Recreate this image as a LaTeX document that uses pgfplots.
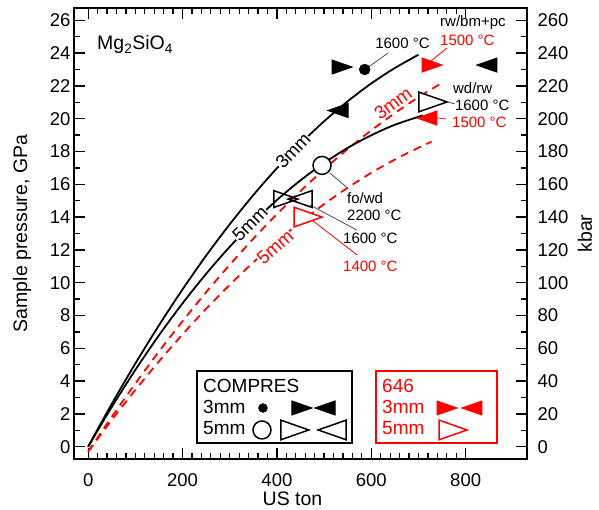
\documentclass[border=0pt]{standalone}
\usepackage{fontspec}
\setmainfont{Liberation Sans}
\usepackage{pgfplots}
\pgfplotsset{compat=1.18}

% triangle marks: bbox centred, pointing right / left
\pgfdeclareplotmark{trf}{%
  \pgfpathmoveto{\pgfpoint{\pgfplotmarksize}{0pt}}%
  \pgfpathlineto{\pgfpoint{-\pgfplotmarksize}{0.7\pgfplotmarksize}}%
  \pgfpathlineto{\pgfpoint{-\pgfplotmarksize}{-0.7\pgfplotmarksize}}%
  \pgfpathclose\pgfusepathqfillstroke}
\pgfdeclareplotmark{tlf}{%
  \pgfpathmoveto{\pgfpoint{-\pgfplotmarksize}{0pt}}%
  \pgfpathlineto{\pgfpoint{\pgfplotmarksize}{0.7\pgfplotmarksize}}%
  \pgfpathlineto{\pgfpoint{\pgfplotmarksize}{-0.7\pgfplotmarksize}}%
  \pgfpathclose\pgfusepathqfillstroke}
\pgfdeclareplotmark{tro}{%
  \pgfpathmoveto{\pgfpoint{\pgfplotmarksize}{0pt}}%
  \pgfpathlineto{\pgfpoint{-\pgfplotmarksize}{0.7\pgfplotmarksize}}%
  \pgfpathlineto{\pgfpoint{-\pgfplotmarksize}{-0.7\pgfplotmarksize}}%
  \pgfpathclose\pgfusepathqstroke}
\pgfdeclareplotmark{tlo}{%
  \pgfpathmoveto{\pgfpoint{-\pgfplotmarksize}{0pt}}%
  \pgfpathlineto{\pgfpoint{\pgfplotmarksize}{0.7\pgfplotmarksize}}%
  \pgfpathlineto{\pgfpoint{\pgfplotmarksize}{-0.7\pgfplotmarksize}}%
  \pgfpathclose\pgfusepathqstroke}

\newcommand{\fmain}{\fontsize{18.5}{21}\selectfont}
\newcommand{\flab}{\fontsize{19.5}{22}\selectfont}
\newcommand{\fann}{\fontsize{15}{17}\selectfont}
\newcommand{\fleg}{\fontsize{19}{21}\selectfont}

\begin{document}
\begin{tikzpicture}
\useasboundingbox (-74pt,-51pt) rectangle (525pt,459pt);
\begin{axis}[
  scale only axis, width=453pt, height=451pt,
  xmin=-30, xmax=930, ymin=-0.75, ymax=26.75,
  xtick={0,200,...,800}, minor x tick num=9,
  ytick={0,2,...,26}, minor y tick num=1,
  ytick pos=left, xtick pos=both,
  tick align=inside,
  major tick length=11pt, minor tick length=6pt,
  every tick/.style={black, line width=1.3pt},
  axis line style={line width=1.6pt},
  tick label style={font=\fmain},
  xticklabel style={yshift=-11pt},
  /pgf/number format/assume math mode=true,
  clip=false,
]
% 646 press (red dashed)
\addplot[red, line width=1.8pt, dash pattern=on 8pt off 6pt, smooth] coordinates {
(0,-0.3)(50,1.82)(100,3.85)(150,5.80)(200,7.65)(250,9.42)(300,11.09)(350,12.68)(400,14.18)(450,15.59)(500,16.91)(550,18.15)(600,19.29)(650,20.34)(700,21.31)(745,22.1)};
\addplot[red, line width=1.8pt, dash pattern=on 8pt off 6pt, smooth] coordinates {
(0,-0.3)(50,1.63)(100,3.46)(150,5.20)(200,6.85)(250,8.41)(300,9.87)(350,11.24)(400,12.51)(450,13.70)(500,14.79)(550,15.79)(600,16.70)(650,17.51)(700,18.23)(728,18.6)};
\node[text=red, fill=white, inner sep=0.5pt, rotate=36, font=\fmain] at (axis cs:646,20.95) {3mm};
\node[text=red, fill=white, inner sep=0.5pt, rotate=41, font=\fmain] at (axis cs:396,12.15) {5mm};
% COMPRES (black solid)
\addplot[black, line width=1.8pt, smooth] coordinates {
(0,0)(50,2.61)(100,5.07)(150,7.40)(200,9.59)(250,11.65)(300,13.56)(350,15.34)(400,16.98)(450,18.48)(500,19.84)(550,21.06)(600,22.15)(650,23.09)(700,23.90)};
\addplot[black, line width=1.8pt, smooth] coordinates {
(0,0)(50,2.42)(100,4.68)(150,6.79)(200,8.74)(250,10.54)(300,12.19)(350,13.69)(400,15.04)(450,16.24)(500,17.30)(550,18.22)(600,18.99)(650,19.63)(709,20.20)};
\node[fill=white, inner sep=0.5pt, rotate=46, font=\fmain] at (axis cs:434,18.05) {3mm};
\node[fill=white, inner sep=0.5pt, rotate=45, font=\fmain] at (axis cs:343,13.6) {5mm};

% annotation leader lines
\draw[black!70, line width=0.8pt] (axis cs:587,23.0) -- (axis cs:635,24.0);
\draw[red, line width=0.8pt] (axis cs:760,24.3) -- (axis cs:724,23.46);
\draw[black!70, line width=0.8pt] (axis cs:762,21.02) -- (axis cs:777,20.9);
\draw[red, line width=0.8pt] (axis cs:726,20.1) -- (axis cs:758,19.98);
\draw[black!70, line width=0.8pt] (axis cs:512,16.69) -- (axis cs:550,15.77);
\draw[black!70, line width=0.8pt] (axis cs:470,14.74) -- (axis cs:570,13.2);
\draw[red, line width=0.8pt] (axis cs:474,13.82) -- (axis cs:570,11.69);

% annotation texts
\node[anchor=west, inner sep=0pt, font=\flab] at (axis cs:18.7,24.5) {Mg\textsubscript{2}SiO\textsubscript{4}};
\node[anchor=west, inner sep=0pt, font=\fann] at (axis cs:608,24.62) {1600 °C};
\node[anchor=west, inner sep=0pt, font=\fann] at (axis cs:745.6,25.84) {rw/bm+pc};
\node[anchor=west, inner sep=0pt, font=\fann, text=red] at (axis cs:745.6,24.8) {1500 °C};
\node[anchor=west, inner sep=0pt, font=\fann] at (axis cs:773,21.87) {wd/rw};
\node[anchor=west, inner sep=0pt, font=\fann] at (axis cs:777,20.83) {1600 °C};
\node[anchor=west, inner sep=0pt, font=\fann, text=red] at (axis cs:771,19.8) {1500 °C};
\node[anchor=west, inner sep=0pt, font=\fann] at (axis cs:548.5,15.16) {fo/wd};
\node[anchor=west, inner sep=0pt, font=\fann] at (axis cs:548.5,14.13) {2200 °C};
\node[anchor=west, inner sep=0pt, font=\fann] at (axis cs:540,12.72) {1600 °C};
\node[anchor=west, inner sep=0pt, font=\fann, text=red] at (axis cs:540,11.02) {1400 °C};

% data markers: COMPRES 3mm
\addplot[only marks, mark=*, mark size=5.5pt, black] coordinates {(586,23.0)};
\addplot[only marks, mark=trf, mark size=10pt, black, mark options={fill=black, line width=1pt}] coordinates {(538,23.15)};
\addplot[only marks, mark=tlf, mark size=10pt, black, mark options={fill=black, line width=1pt}] coordinates {(845,23.27)(529.5,20.5)};
% COMPRES 5mm
\addplot[only marks, mark=*, mark size=9pt, black, mark options={fill=white, line width=1.5pt}] coordinates {(495.6,17.15)};
\addplot[only marks, mark=tro, mark size=12pt, black, mark options={line width=1.5pt}] coordinates {(419,15.1)};
\addplot[only marks, mark=tlo, mark size=12pt, black, mark options={line width=1.5pt}] coordinates {(449,15.1)};
\addplot[only marks, mark=trf, mark size=14pt, black, mark options={fill=white, line width=1.5pt}] coordinates {(730.8,21.02)};
% 646
\addplot[only marks, mark=trf, mark size=10pt, red, mark options={fill=red, line width=1pt}] coordinates {(728.7,23.27)};
\addplot[only marks, mark=tlf, mark size=10pt, red, mark options={fill=red, line width=1pt}] coordinates {(718,20.04)};
\addplot[only marks, mark=trf, mark size=14pt, red, mark options={fill=white, line width=1.5pt}] coordinates {(466,14.0)};

% legend boxes
\draw[black, line width=1.5pt, fill=white] (axis cs:230.7,4.615) rectangle (axis cs:559.1,0.224);
\draw[red, line width=1.5pt, fill=white] (axis cs:610,4.615) rectangle (axis cs:866.4,0.224);
\node[anchor=base west, inner sep=0pt, font=\fleg] at (axis cs:243.4,3.33) {COMPRES};
\node[anchor=base west, inner sep=0pt, font=\fleg] at (axis cs:243.4,2.05) {3mm};
\node[anchor=base west, inner sep=0pt, font=\fleg] at (axis cs:243.4,0.77) {5mm};
\node[anchor=base west, inner sep=0pt, font=\fleg, text=red] at (axis cs:622.7,3.33) {646};
\node[anchor=base west, inner sep=0pt, font=\fleg, text=red] at (axis cs:622.7,2.05) {3mm};
\node[anchor=base west, inner sep=0pt, font=\fleg, text=red] at (axis cs:622.7,0.77) {5mm};
\addplot[only marks, mark=*, mark size=4.5pt, black] coordinates {(370.5,2.36)};
\addplot[only marks, mark=trf, mark size=10pt, black, mark options={fill=black, line width=1pt}] coordinates {(453,2.36)};
\addplot[only marks, mark=tlf, mark size=10pt, black, mark options={fill=black, line width=1pt}] coordinates {(502,2.36)};
\addplot[only marks, mark=*, mark size=9pt, black, mark options={fill=white, line width=1.5pt}] coordinates {(368.4,1.02)};
\addplot[only marks, mark=trf, mark size=14pt, black, mark options={fill=white, line width=1.5pt}] coordinates {(438,1.02)};
\addplot[only marks, mark=tlf, mark size=14pt, black, mark options={fill=white, line width=1.5pt}] coordinates {(517,1.02)};
\addplot[only marks, mark=trf, mark size=10pt, red, mark options={fill=red, line width=1pt}] coordinates {(760.5,2.36)};
\addplot[only marks, mark=tlf, mark size=10pt, red, mark options={fill=red, line width=1pt}] coordinates {(813.4,2.36)};
\addplot[only marks, mark=trf, mark size=14pt, red, mark options={fill=white, line width=1.5pt}] coordinates {(773.2,1.02)};
\end{axis}
\begin{axis}[
  scale only axis, width=453pt, height=451pt,
  xmin=-30, xmax=930, ymin=-7.5, ymax=267.5,
  axis x line=none, axis y line*=right,
  ytick={0,20,...,260}, minor y tick num=1,
  tick align=inside,
  major tick length=11pt, minor tick length=6pt,
  every tick/.style={black, line width=1.3pt},
  axis line style={line width=1.6pt},
  tick label style={font=\fmain},
  yticklabel style={xshift=7pt},
  /pgf/number format/assume math mode=true,
]
\end{axis}
\node[rotate=90, inner sep=0pt, font=\flab] at (-52pt,225.5pt) {Sample pressure, GPa};
\node[rotate=90, inner sep=0pt, font=\flab] at (511pt,225.5pt) {kbar};
\node[inner sep=0pt, font=\flab] at (218.5pt,-40pt) {US ton};
\end{tikzpicture}
\end{document}
